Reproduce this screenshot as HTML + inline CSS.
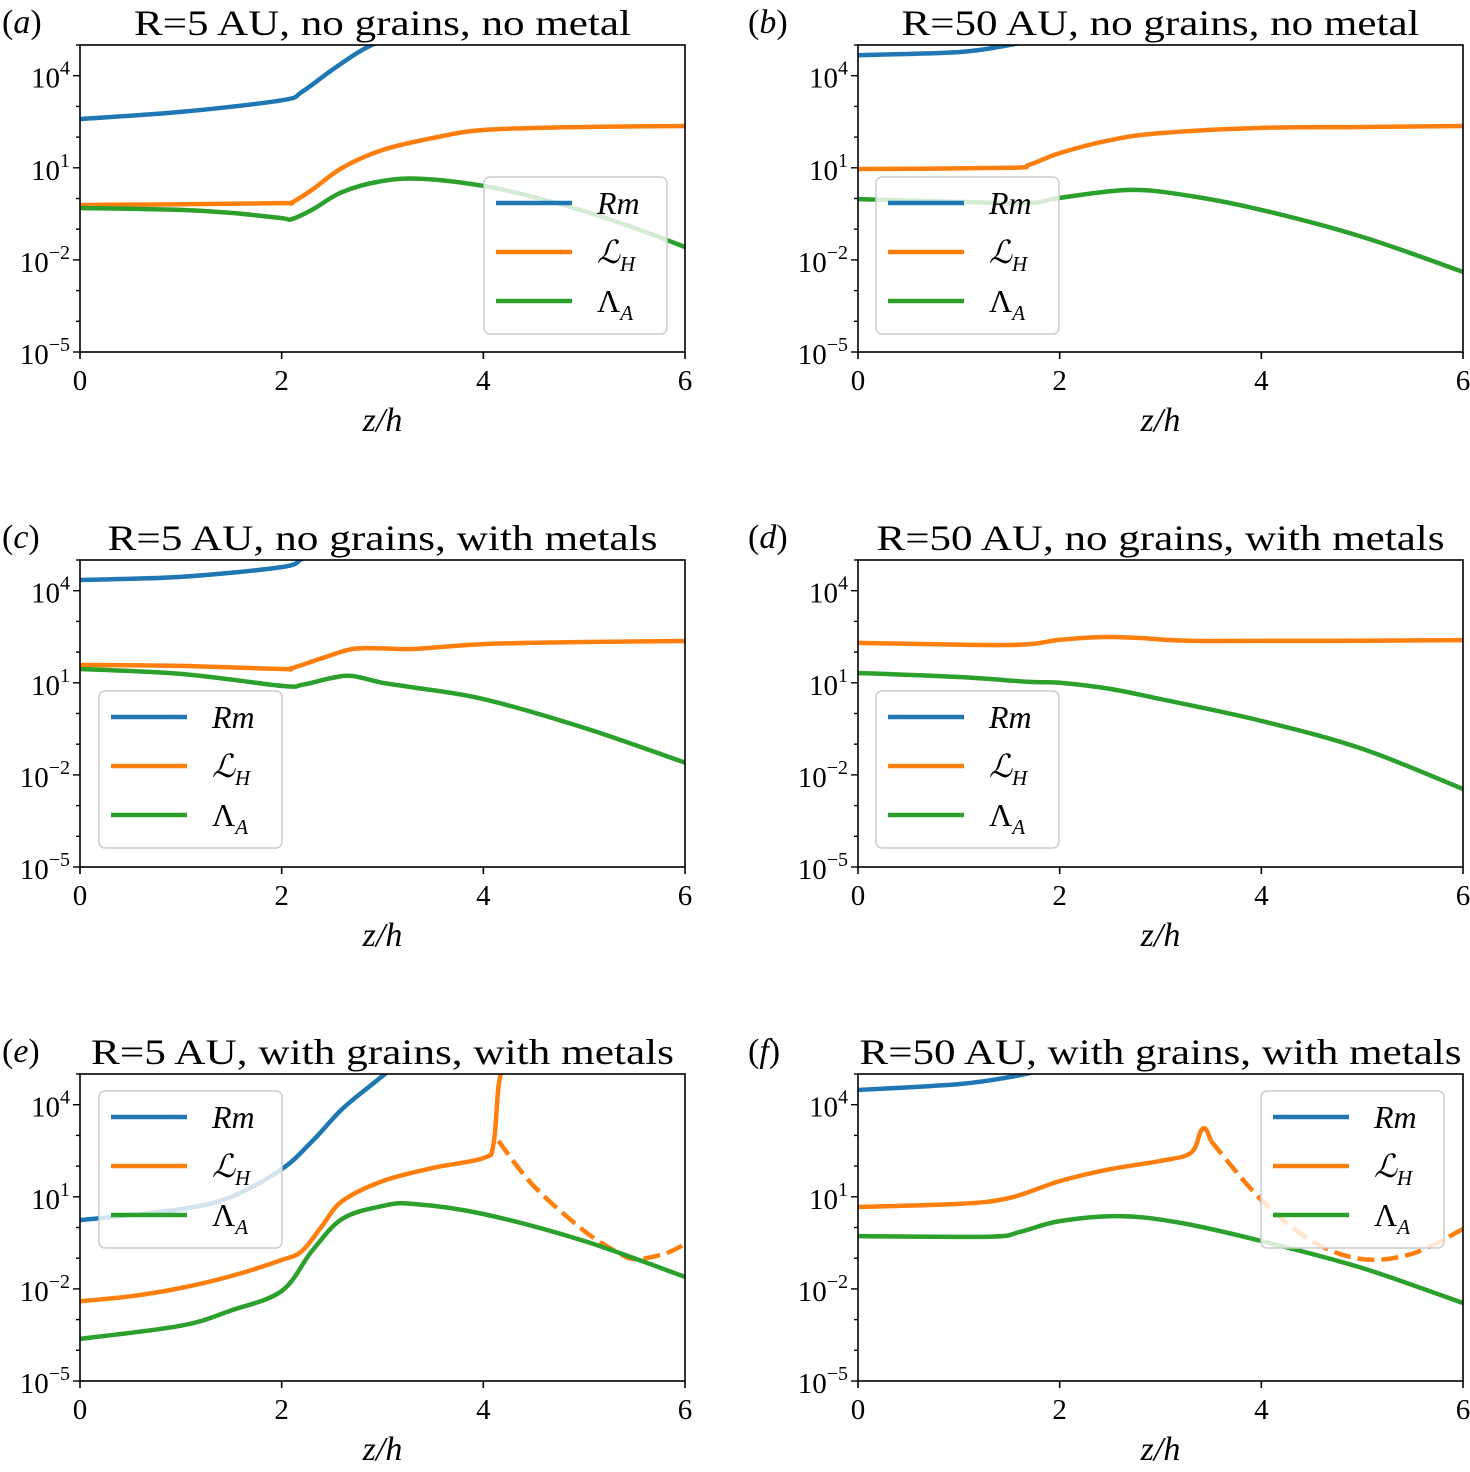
<!DOCTYPE html>
<html><head><meta charset="utf-8"><style>
body{margin:0;background:#fff}
svg text{font-family:"Liberation Serif","DejaVu Serif",serif;fill:#000}
</style></head><body>
<svg id="fig" width="1470" height="1467" xmlns="http://www.w3.org/2000/svg"></svg>
<script>
// ---- data (log10 values) ----
const zA=[0,1,2,2.2,2.5,2.8,3.1];const rmA=[2.59,2.82,3.2,3.47,4.19,4.84,5.3];
const zA2=[0,1,2,2.1,2.3,2.6,3,3.5,4,5,6];const lhA=[-0.21,-0.19,-0.15,-0.13,0.28,1.0,1.58,1.97,2.23,2.33,2.36];
const zA3=[0,1,1.5,2,2.1,2.3,2.6,3,3.4,4,4.5,5,5.5,6];const laA=[-0.31,-0.37,-0.47,-0.64,-0.67,-0.37,0.21,0.57,0.64,0.41,0.05,-0.41,-0.96,-1.58];

const zB=[0,1,1.5,1.8];const rmB=[4.67,4.77,5.0,5.2];
const zB2=[0,1.5,1.7,2,2.5,3,4,5,6];const lhB=[0.96,1.0,1.1,1.48,1.9,2.13,2.3,2.33,2.36];
const zB3=[0,1,1.7,2,2.7,3.3,4,5,6];const laB=[-0.02,-0.11,-0.15,0.02,0.28,0.08,-0.37,-1.25,-2.39];

const zC=[0,1,2,2.2,2.4];const rmC=[4.35,4.45,4.77,5.03,5.3];
const zC2=[0,1,2,2.1,2.4,2.7,3,3.3,4,5,6];const lhC=[1.58,1.55,1.45,1.48,1.8,2.1,2.12,2.1,2.26,2.33,2.36];
const zC3=[0,1,2,2.2,2.5,2.7,3,3.3,4,5,6];const laC=[1.45,1.29,0.9,0.93,1.16,1.22,1.0,0.85,0.47,-0.47,-1.6];

const zD2=[0,1.5,2,2.4,2.8,3.5,6];const lhD=[2.3,2.23,2.4,2.49,2.46,2.36,2.39];
const zD3=[0,1,1.7,2,2.5,3,4,5,6];const laD=[1.32,1.19,1.03,1.0,0.8,0.47,-0.24,-1.15,-2.46];

const zE=[0,1,1.5,2,2.3,2.6,2.9,3.1];const rmE=[0.24,0.6,1.0,1.9,2.8,3.86,4.67,5.2];
const zE2=[0,0.5,1,1.5,2,2.2,2.4,2.6,3,3.5,4,4.1,4.15,4.2];const lhE=[-2.4,-2.24,-1.97,-1.58,-1.06,-0.77,0.05,0.86,1.51,1.94,2.26,2.7,4.6,5.3];
const zE4=[4.15,4.5,5,5.3,5.5,5.8,6];const lhDashE=[2.82,1.35,-0.11,-0.75,-1.03,-0.85,-0.54];
const zE3=[0,1,1.5,2,2.3,2.6,3,3.3,4,5,6];const laE=[-3.63,-3.2,-2.7,-2.07,-0.77,0.28,0.7,0.77,0.44,-0.44,-1.61];

const zF=[0,1,1.5,1.8];const rmF=[4.48,4.67,4.9,5.1];
const zF2=[0,1,1.5,2,2.5,3,3.3,3.4,3.45,3.5];const lhF=[0.67,0.77,0.96,1.51,1.9,2.17,2.43,3.14,3.2,2.82];
const zF4=[3.5,4,4.5,5,5.5,6];const lhDashF=[2.82,0.9,-0.44,-1.03,-0.85,-0.05];
const zF3=[0,1.3,1.6,2,2.6,3.2,4,5,6];const laF=[-0.28,-0.3,-0.15,0.21,0.37,0.15,-0.44,-1.32,-2.46];

const titles=["R=5 AU, no grains, no metal","R=50 AU, no grains, no metal","R=5 AU, no grains, with metals","R=50 AU, no grains, with metals","R=5 AU, with grains, with metals","R=50 AU, with grains, with metals"];
const titleW=[497,518,550,568,583,602];
const letters=["a","b","c","d","e","f"];
const xTicks=[0,2,4,6];const yTicks=[-5,-2,1,4];

const C={rm:"#1f77b4",lh:"#ff7f0e",la:"#2ca02c"};
const panels=[
 {series:[[zA,rmA,"rm"],[zA2,lhA,"lh"],[zA3,laA,"la"]],leg:[484,177]},
 {series:[[zB,rmB,"rm"],[zB2,lhB,"lh"],[zB3,laB,"la"]],leg:[876,177]},
 {series:[[zC,rmC,"rm"],[zC2,lhC,"lh"],[zC3,laC,"la"]],leg:[99,691]},
 {series:[[zD2,lhD,"lh"],[zD3,laD,"la"]],leg:[876,691]},
 {series:[[zE,rmE,"rm"],[zE2,lhE,"lh"],[zE4,lhDashE,"lh",1],[zE3,laE,"la"]],leg:[99,1091]},
 {series:[[zF,rmF,"rm"],[zF2,lhF,"lh"],[zF4,lhDashF,"lh",1],[zF3,laF,"la"]],leg:[1261,1091]}
];
const NS="http://www.w3.org/2000/svg";
const svg=document.getElementById('fig');
function mk(tag,attrs,parent){const e=document.createElementNS(NS,tag);for(const k in attrs)e.setAttribute(k,attrs[k]);(parent||svg).appendChild(e);return e;}
function pathFrom(pts){let d="M"+pts[0][0]+","+pts[0][1];
 for(let i=0;i<pts.length-1;i++){const p0=pts[Math.max(0,i-1)],p1=pts[i],p2=pts[i+1],p3=pts[Math.min(pts.length-1,i+2)];
 const c1=[p1[0]+(p2[0]-p0[0])/6,p1[1]+(p2[1]-p0[1])/6],c2=[p2[0]-(p3[0]-p1[0])/6,p2[1]-(p3[1]-p1[1])/6];
 d+=" C"+c1[0].toFixed(1)+","+c1[1].toFixed(1)+" "+c2[0].toFixed(1)+","+c2[1].toFixed(1)+" "+p2[0].toFixed(1)+","+p2[1].toFixed(1);}return d;}
const lefts=[80,858],tops=[45,560,1074],W=605,H=307;
panels.forEach((p,i)=>{
 const col=i%2,x0=lefts[col],y0=tops[Math.floor(i/2)];
 const sx=z=>x0+z/6*W, sy=v=>y0+H-(v+5)/10*H;
 const g=mk('g',{});
 
 
 const cp=mk('clipPath',{id:'cp'+i},g);mk('rect',{x:x0,y:y0,width:W,height:H},cp);
 p.series.forEach(s=>{
  const pts=s[0].map((z,j)=>[sx(z),sy(s[1][j])]);
  const el=mk('path',{d:pathFrom(pts),fill:'none',stroke:C[s[2]],'stroke-width':4.5,'stroke-linejoin':'round','clip-path':'url(#cp'+i+')'},g);
  if(s[3])el.setAttribute('stroke-dasharray','17,7');
  
  
 });
 mk('rect',{x:x0,y:y0,width:W,height:H,fill:'none',stroke:'#000','stroke-width':1.6},g);
 xTicks.forEach(t=>{mk('line',{x1:sx(t),x2:sx(t),y1:y0+H,y2:y0+H+7,stroke:'#000','stroke-width':1.6},g);
  const tx=mk('text',{x:sx(t),y:y0+H+38,'font-size':29,'text-anchor':'middle'},g);tx.textContent=t;});
 for(let d=-5;d<=5;d++){mk('line',{x1:x0-(yTicks.includes(d)?7:4),x2:x0,y1:sy(d),y2:sy(d),stroke:'#000','stroke-width':1.4},g);}
 yTicks.forEach(t=>{const tx=mk('text',{x:x0-10,y:sy(t)+12,'font-size':29,'text-anchor':'end'},g);
  tx.innerHTML='10<tspan dy="-13" font-size="20">'+(t<0?'\u2212'+(-t):t)+'</tspan>';});
 const xl=mk('text',{x:x0+W/2,y:y0+H+79,'font-size':34,'text-anchor':'middle','font-style':'italic'},g);xl.textContent='z/h';
 const tt=mk('text',{x:x0+W/2,y:y0-10,'font-size':36,'text-anchor':'middle',textLength:titleW[i],lengthAdjust:'spacingAndGlyphs'},g);tt.textContent=titles[i];
 
 const lt=mk('text',{x:col?748:2,y:y0-12,'font-size':34},g);lt.innerHTML='(<tspan font-style="italic">'+letters[i]+'</tspan>)';
 // legend
 const [lx,ly]=p.leg;const lg=mk('g',{},g);
 
 mk('rect',{x:lx,y:ly,width:183,height:157,rx:6,fill:'rgba(255,255,255,0.8)',stroke:'#ccc','stroke-width':1.5},lg);
 [["rm",'<tspan font-style="italic">Rm</tspan>'],["lh",'<tspan font-style="italic">ℒ</tspan><tspan font-style="italic" font-size="21" dy="8">H</tspan>'],["la",'Λ<tspan font-style="italic" font-size="21" dy="8">A</tspan>']].forEach((e,k)=>{
  const yy=ly+26+k*49;
  mk('line',{x1:lx+12,x2:lx+88,y1:yy,y2:yy,stroke:C[e[0]],'stroke-width':4.5},lg);
  const t=mk('text',{x:lx+113,y:yy+11,'font-size':32},lg);t.innerHTML=e[1];
  
 });
});
</script>
</body></html>
